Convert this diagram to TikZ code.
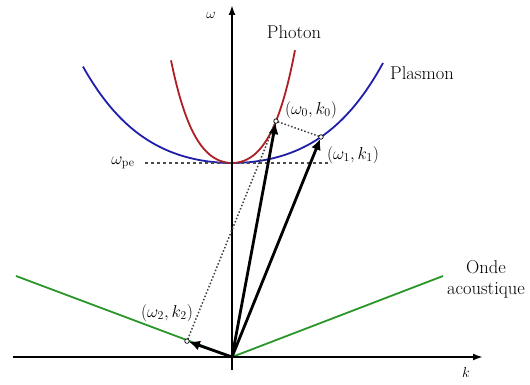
\documentclass[tikz,border=0pt]{standalone}
\usetikzlibrary{arrows.meta}
\definecolor{photonred}{RGB}{175,30,35}
\definecolor{plasmablue}{RGB}{30,30,170}
\definecolor{acgreen}{RGB}{40,150,40}
\begin{document}
\begin{tikzpicture}[x=1pt,y=1pt,
  axisline/.style={line width=1.8pt,-{Latex[length=10pt,width=7pt]}},
  vecline/.style={line width=2.8pt,-{Latex[length=11pt,width=10pt]},shorten >=2pt},
  curveline/.style={line width=1.8pt},
  dotline/.style={dotted,line width=1.5pt,black!75,shorten >=2pt,shorten <=2pt},
  dotpt/.style={circle,draw=black,fill=white,inner sep=0pt,minimum size=4.5pt,line width=0.7pt},
  lab/.style={font=\fontsize{17}{20}\selectfont,inner sep=1pt},
  txtlab/.style={font=\fontsize{18.5}{21}\selectfont,inner sep=1pt},
  axlab/.style={font=\fontsize{14.4}{17}\selectfont,inner sep=1pt}]
\useasboundingbox (-232,-28) rectangle (298,357);
% coordinates
\coordinate (O) at (0,0);
\coordinate (xs) at (-219,0);
\coordinate (xe) at (251,0);
\coordinate (ys) at (0,-13);
\coordinate (ye) at (0,352);
\coordinate (gl) at (-216,81);
\coordinate (gr) at (211,81);
\coordinate (pel) at (-87,194);
\coordinate (per) at (96,194);
\coordinate (k0) at (44,235.9);
\coordinate (k1) at (89,220);
\coordinate (k2) at (-45,15.9);
% acoustic branches
\draw[curveline,acgreen] (gl) -- (O) -- (gr);
% plasmon
\draw[curveline,plasmablue] plot[domain=-149:151,samples=80,smooth]
  (\x,{194+27*(\x/100)^2+7.4*(\x/100)^4});
% photon
\draw[curveline,photonred] plot[domain=-61:63,samples=60,smooth]
  (\x,{194+152*(\x/100)^2+333*(\x/100)^4});
% omega_pe level
\draw[dashed,line width=1.1pt,black!70] (pel) -- (per);
% axes
\draw[axisline] (xs) -- (xe);
\draw[axisline] (ys) -- (ye);
% dotted construction lines
\draw[dotline] (k0) -- (k1);
\draw[dotline] (k2) -- (k0);
% wave vectors
\draw[vecline] (O) -- (k0);
\draw[vecline] (O) -- (k1);
\draw[vecline] (O) -- (k2);
% points
\node[dotpt] (p0) at (k0) {};
\node[dotpt] (p1) at (k1) {};
\node[dotpt] (p2) at (k2) {};
% labels
\node[lab] (l0) at (79,247) {$(\omega_0,k_0)$};
\node[lab] (l1) at (121,202) {$(\omega_1,k_1)$};
\node[lab] (l2) at (-65,44) {$(\omega_2,k_2)$};
\node[lab] (lpe) at (-109,194) {$\omega_{\mathrm{pe}}$};
\node[axlab] (lw) at (-21,342) {$\omega$};
\node[axlab] (lk) at (234,-16) {$k$};
\node[txtlab] (lph) at (62,325) {Photon};
\node[txtlab] (lpl) at (190,284) {Plasmon};
\node[txtlab,align=center] (lac) at (254,78) {Onde\\acoustique};
\end{tikzpicture}
\end{document}
